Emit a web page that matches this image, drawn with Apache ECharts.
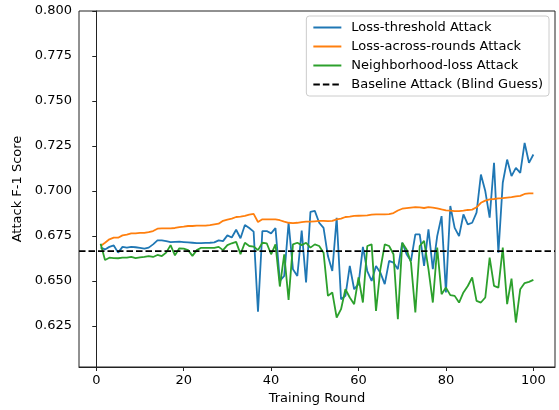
<!DOCTYPE html>
<html>
<head>
<meta charset="utf-8">
<script src="https://cdn.jsdelivr.net/npm/echarts@6/dist/echarts.min.js"></script>
<style>
  html, body { margin: 0; padding: 0; background: #fff; }
  #chart { width: 559px; height: 410px; }
</style>
</head>
<body>
<div id="chart"></div>
<script>
// training rounds 1..100
var rounds = [];
for (var i = 1; i <= 100; i++) rounds.push(i);

var lossThreshold = [
  0.6686, 0.6676, 0.6690, 0.6698, 0.6658, 0.6690, 0.6686, 0.6690, 0.6688, 0.6684,
  0.6680, 0.6686, 0.6704, 0.6726, 0.6726, 0.6722, 0.6716, 0.6718, 0.6719, 0.6717,
  0.6715, 0.6713, 0.6711, 0.6711, 0.6712, 0.6713, 0.6715, 0.6726, 0.6722, 0.6754,
  0.6742, 0.6785, 0.6738, 0.6812, 0.6795, 0.6775, 0.6330, 0.6778, 0.6778, 0.6765,
  0.6795, 0.6501, 0.6529, 0.6824, 0.6566, 0.6529, 0.6780, 0.6492, 0.6885, 0.6890,
  0.6824, 0.6796, 0.6639, 0.6556, 0.6852, 0.6399, 0.6418, 0.6584, 0.6455, 0.6483,
  0.6690, 0.6556, 0.6501, 0.6584, 0.6547, 0.6483, 0.6612, 0.6603, 0.6566, 0.6713,
  0.6649, 0.6612, 0.6759, 0.6759, 0.6584, 0.6787, 0.6566, 0.6750, 0.6861, 0.6437,
  0.6917, 0.6796, 0.6750, 0.6870, 0.6815, 0.6824, 0.6880, 0.7092, 0.7000, 0.6852,
  0.7157, 0.6658, 0.7046, 0.7175, 0.7083, 0.7129, 0.7101, 0.7267, 0.7157, 0.7203
];

var lossAcrossRounds = [
  0.6695, 0.6713, 0.6732, 0.6741, 0.6741, 0.6754, 0.6758, 0.6765, 0.6765, 0.6768,
  0.6768, 0.6772, 0.6778, 0.6791, 0.6793, 0.6793, 0.6793, 0.6795, 0.6800, 0.6802,
  0.6806, 0.6806, 0.6808, 0.6808, 0.6808, 0.6811, 0.6815, 0.6819, 0.6835, 0.6842,
  0.6847, 0.6856, 0.6858, 0.6862, 0.6869, 0.6873, 0.6828, 0.6843, 0.6843, 0.6843,
  0.6843, 0.6838, 0.6830, 0.6824, 0.6822, 0.6824, 0.6828, 0.6830, 0.6830, 0.6832,
  0.6834, 0.6834, 0.6833, 0.6834, 0.6843, 0.6847, 0.6856, 0.6858, 0.6862, 0.6863,
  0.6864, 0.6865, 0.6869, 0.6871, 0.6871, 0.6871, 0.6872, 0.6878, 0.6892, 0.6902,
  0.6905, 0.6908, 0.6911, 0.6910, 0.6906, 0.6911, 0.6908, 0.6904, 0.6898, 0.6893,
  0.6891, 0.6889, 0.6889, 0.6891, 0.6895, 0.6897, 0.6910, 0.6935, 0.6947, 0.6954,
  0.6956, 0.6959, 0.6961, 0.6964, 0.6966, 0.6970, 0.6973, 0.6984, 0.6987, 0.6987
];

var neighborhoodLoss = [
  0.6708, 0.6617, 0.6630, 0.6628, 0.6627, 0.6630, 0.6630, 0.6634, 0.6628, 0.6632,
  0.6634, 0.6639, 0.6634, 0.6645, 0.6639, 0.6658, 0.6700, 0.6643, 0.6682, 0.6680,
  0.6672, 0.6640, 0.6672, 0.6685, 0.6684, 0.6684, 0.6685, 0.6690, 0.6672, 0.6700,
  0.6710, 0.6718, 0.6650, 0.6713, 0.6695, 0.6692, 0.6672, 0.6713, 0.6710, 0.6649,
  0.6704, 0.6470, 0.6649, 0.6396, 0.6704, 0.6713, 0.6700, 0.6713, 0.6686, 0.6704,
  0.6695, 0.6658, 0.6418, 0.6437, 0.6298, 0.6344, 0.6455, 0.6409, 0.6372, 0.6520,
  0.6381, 0.6695, 0.6704, 0.6335, 0.6566, 0.6704, 0.6695, 0.6649, 0.6289, 0.6713,
  0.6676, 0.6603, 0.6326, 0.6695, 0.6723, 0.6566, 0.6381, 0.6686, 0.6427, 0.6464,
  0.6422, 0.6418, 0.6381, 0.6437, 0.6473, 0.6520, 0.6390, 0.6381, 0.6409, 0.6630,
  0.6473, 0.6464, 0.6686, 0.6372, 0.6514, 0.6270, 0.6455, 0.6489, 0.6496, 0.6507
];

var baselineF1 = 2 / 3;

var xMin = -3.95, xMax = 104.95;
var xTicks = [0, 20, 40, 60, 80, 100];
var yTicks = [0.625, 0.65, 0.675, 0.7, 0.725, 0.75, 0.775, 0.8];

function pairs(vals) {
  return rounds.map(function (r, i) { return [r, vals[i]]; });
}

var myChart = echarts.init(document.getElementById('chart'));
var font = 'DejaVu Sans';
var dash = [6.5, 3];
var option = {
  animation: false,
  textStyle: { fontFamily: font },
  grid: {
    left: 79, right: 4, top: 11, bottom: 42,
    show: true, borderColor: '#222', borderWidth: 1
  },
  legend: {
    orient: 'vertical',
    right: 10,
    top: 16,
    padding: [5, 6, 5, 6],
    itemWidth: 28,
    itemHeight: 13,
    itemGap: 6,
    backgroundColor: '#fff',
    borderColor: '#ccc',
    borderWidth: 1,
    borderRadius: 3,
    itemStyle: { opacity: 0 },
    textStyle: { fontFamily: font, fontSize: 13, color: '#000', padding: [0, 0, 0, 5] },
    data: ['Loss-threshold Attack', 'Loss-across-rounds Attack',
           'Neighborhood-loss Attack', 'Baseline Attack (Blind Guess)']
  },
  xAxis: {
    type: 'value',
    min: xMin,
    max: xMax,
    name: 'Training Round',
    nameLocation: 'middle',
    nameGap: 25,
    nameTextStyle: { fontFamily: font, fontSize: 13, color: '#000' },
    axisLine: { show: true, lineStyle: { color: '#222', width: 1 } },
    axisTick: { show: true, inside: false, length: 4, customValues: xTicks, lineStyle: { color: '#222' } },
    axisLabel: { customValues: xTicks, fontFamily: font, fontSize: 13, color: '#000', margin: 7 },
    splitLine: { show: false }
  },
  yAxis: {
    type: 'value',
    min: 0.6023,
    max: 0.8,
    name: 'Attack F-1 Score',
    nameLocation: 'middle',
    nameGap: 54,
    nameTextStyle: { fontFamily: font, fontSize: 13, color: '#000' },
    axisLine: { show: true, lineStyle: { color: '#222', width: 1 } },
    axisTick: { show: true, inside: false, length: 4, customValues: yTicks, lineStyle: { color: '#222' } },
    axisLabel: {
      customValues: yTicks, fontFamily: font, fontSize: 13, color: '#000', margin: 7,
      formatter: function (v) { return v.toFixed(3); }
    },
    splitLine: { show: false }
  },
  series: [
    {
      name: 'Loss-threshold Attack', type: 'line', data: pairs(lossThreshold),
      symbol: 'none', color: '#1f77b4', lineStyle: { width: 1.8 }, z: 3
    },
    {
      name: 'Loss-across-rounds Attack', type: 'line', data: pairs(lossAcrossRounds),
      symbol: 'none', color: '#ff7f0e', lineStyle: { width: 1.8 }, z: 4
    },
    {
      name: 'Neighborhood-loss Attack', type: 'line', data: pairs(neighborhoodLoss),
      symbol: 'none', color: '#2ca02c', lineStyle: { width: 1.8 }, z: 5
    },
    {
      name: 'Baseline Attack (Blind Guess)', type: 'line',
      data: [[xMin, baselineF1], [xMax, baselineF1]],
      symbol: 'none', color: '#000', lineStyle: { width: 1.8, type: dash }, z: 6
    }
  ]
};
myChart.setOption(option);
window.addEventListener('resize', function () {
  myChart.resize();
});
</script>
</body>
</html>
